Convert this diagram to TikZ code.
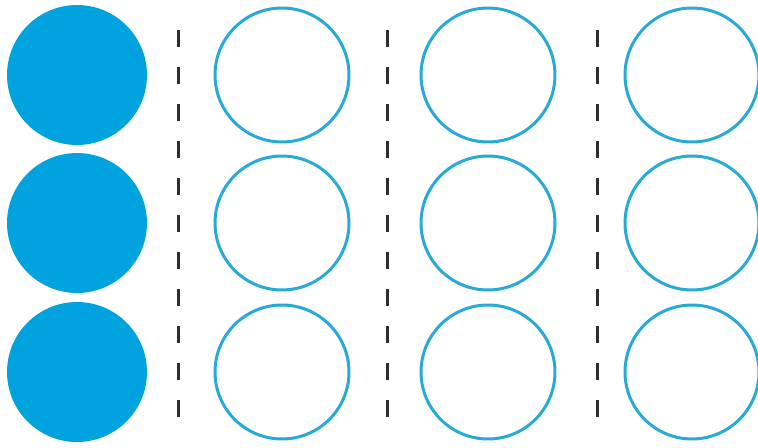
\documentclass[tikz,border=0pt]{standalone}
\usepackage{tikz}
\definecolor{bolita}{RGB}{0,163,222}
\definecolor{aro}{RGB}{40,170,215}
\definecolor{raya}{RGB}{45,45,45}

\begin{document}
\begin{tikzpicture}[x=0.02cm, y=-0.02cm,
    llena/.style={circle, fill=bolita, minimum size=2.8cm, inner sep=0pt},
    vacia/.style={circle, draw=aro, line width=0.06cm, minimum size=2.68cm, inner sep=0pt},
    separador/.style={raya, line width=0.06cm, dash pattern=on 0.34cm off 0.4cm}]
        \useasboundingbox (0,0) rectangle (758,447);
        \foreach \f/\y in {1/75, 2/223, 3/372} {
            \node[llena] (a\f) at (77,\y) {};
            \node[vacia] (b\f) at (282,\y) {};
            \node[vacia] (c\f) at (488,\y) {};
            \node[vacia] (d\f) at (692,\y) {};
        }
        \foreach \x in {178, 387, 597} {
            \draw[separador] (\x,30) -- (\x,426);
        }
      \end{tikzpicture}
\end{document}
